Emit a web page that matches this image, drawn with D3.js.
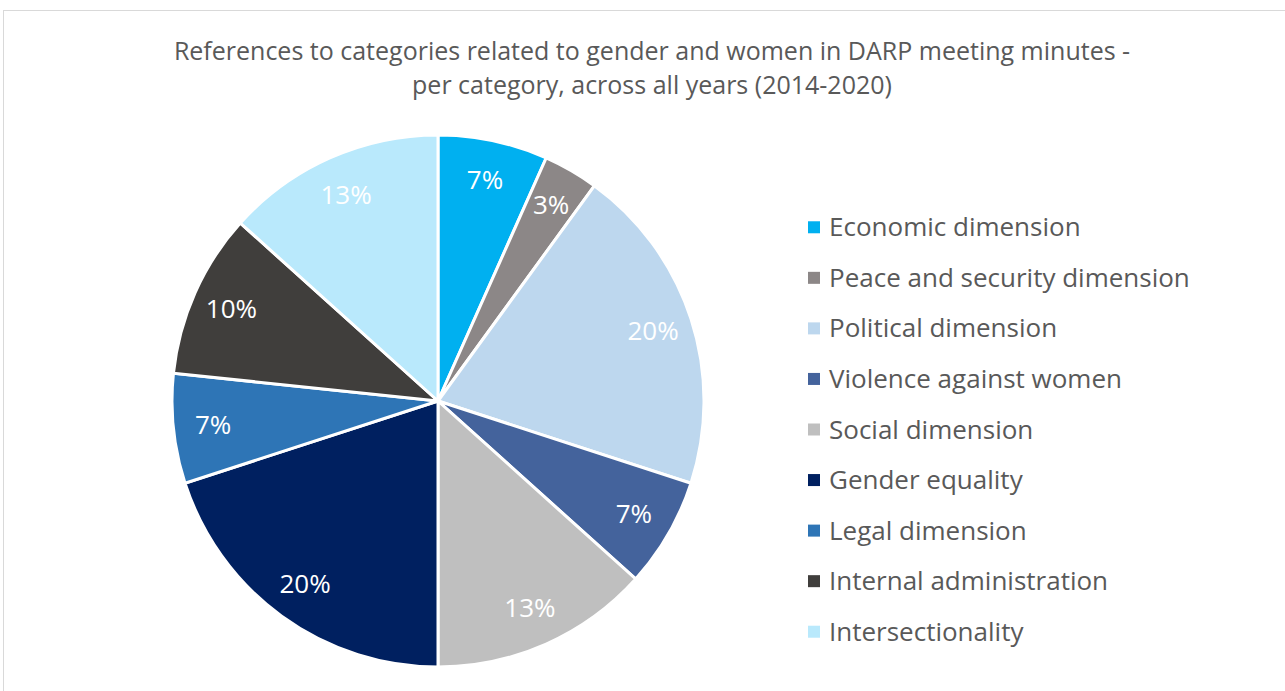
<!DOCTYPE html>
<html>
<head>
<meta charset="utf-8">
<script src="https://cdn.jsdelivr.net/npm/d3@7"></script>
<style>
  body { margin: 0; background: #fff; }
  svg text { font-family: "Open Sans", "Noto Sans", sans-serif; }
</style>
</head>
<body>
<div id="chart"></div>
<script>
// data
var categories = ["Economic dimension", "Peace and security dimension", "Political dimension",
    "Violence against women", "Social dimension", "Gender equality", "Legal dimension",
    "Internal administration", "Intersectionality"];
var counts = [2, 1, 6, 2, 4, 6, 2, 3, 4];
var colours = ["#00b0f0", "#8c8787", "#bdd7ee", "#44639c", "#bfbfbf", "#002060", "#2e75b6", "#403e3c", "#b9e9fc"];
var titleLines = ["References to categories related to gender and women in DARP meeting minutes -",
    "per category, across all years (2014-2020)"];

var width = 1285, height = 691;
var cx = 438, cy = 401, radius = 266;

var svg = d3.select("#chart").append("svg")
    .attr("width", width)
    .attr("height", height);

// frame
svg.append("rect")
    .attr("x", 3.5).attr("y", 10.5)
    .attr("width", width + 10).attr("height", height + 10)
    .attr("fill", "none")
    .attr("stroke", "#d9d9d9")
    .attr("stroke-width", 1);

// title
svg.append("g").selectAll("text")
    .data(titleLines)
    .enter()
    .append("text")
    .attr("x", 652)
    .attr("y", function(d, i) { return 60 + i * 34; })
    .attr("text-anchor", "middle")
    .attr("fill", "#595959")
    .style("font-size", "25px")
    .text(function(d) { return d; });

var total = d3.sum(counts);
var rows = counts.map(function(c, i) {
    return {name: categories[i], value: c, colour: colours[i]};
});

var pie = d3.pie().sort(null).value(function(d) { return d.value; });
var arc = d3.arc().innerRadius(0).outerRadius(radius);
var labelArc = d3.arc().innerRadius(radius * 0.85).outerRadius(radius * 0.85);

var pieGroup = svg.append("g")
    .attr("transform", "translate(" + cx + "," + cy + ")");

pieGroup.selectAll(".slice")
    .data(pie(rows))
    .enter()
    .append("path")
    .attr("class", "slice")
    .attr("d", arc)
    .attr("fill", function(d) { return d.data.colour; })
    .attr("stroke", "#fff")
    .attr("stroke-width", 3);

pieGroup.selectAll(".sliceLabel")
    .data(pie(rows))
    .enter()
    .append("text")
    .attr("class", "sliceLabel")
    .attr("transform", function(d) { return "translate(" + labelArc.centroid(d) + ")"; })
    .attr("dy", "0.35em")
    .attr("text-anchor", "middle")
    .attr("fill", "#fff")
    .style("font-size", "26px")
    .text(function(d) { return Math.round(d.data.value / total * 100) + "%"; });

// legend
var legendY = d3.scaleBand()
    .domain(categories)
    .range([202, 657]);

var legend = svg.append("g").attr("class", "legend");
var item = legend.selectAll(".item")
    .data(rows)
    .enter()
    .append("g")
    .attr("class", "item")
    .attr("transform", function(d) {
        return "translate(808," + (legendY(d.name) + legendY.bandwidth() / 2) + ")";
    });

item.append("rect")
    .attr("x", 0).attr("y", -6)
    .attr("width", 12).attr("height", 12)
    .attr("fill", function(d) { return d.colour; });

item.append("text")
    .attr("x", 21)
    .attr("dy", "0.35em")
    .attr("fill", "#595959")
    .style("font-size", "26px")
    .text(function(d) { return d.name; });
</script>
</body>
</html>
